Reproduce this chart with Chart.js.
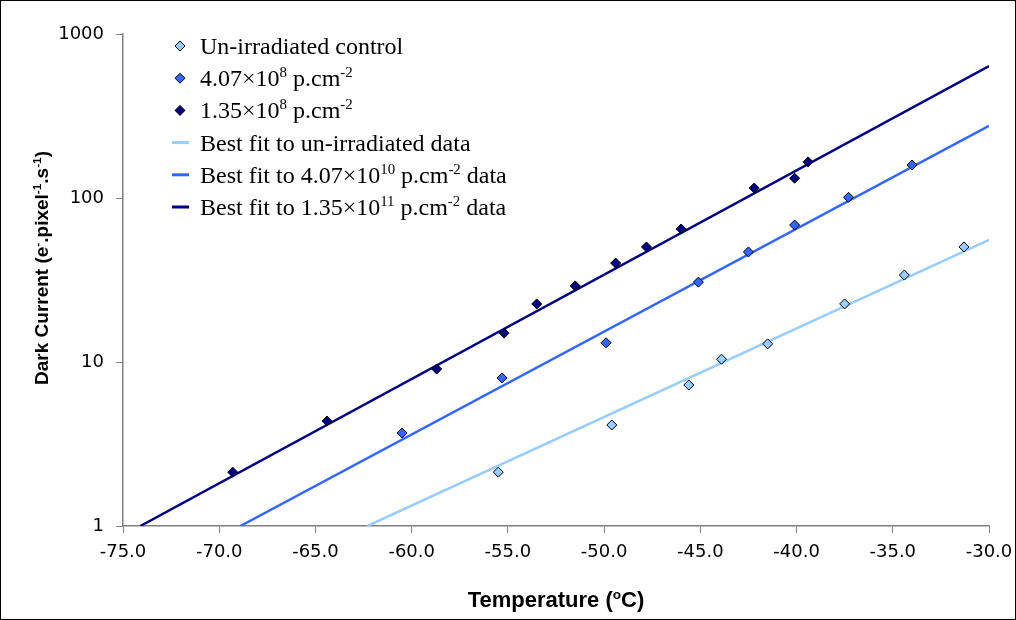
<!DOCTYPE html>
<html>
<head>
<meta charset="utf-8">
<script src="https://cdn.jsdelivr.net/npm/chart.js@4.4.0/dist/chart.umd.min.js"></script>
<style>
  html, body { margin: 0; padding: 0; background: #fff; }
  #wrap { width: 1016px; height: 620px; }
</style>
</head>
<body>
<div id="wrap"><canvas id="darkCurrentChart" width="1016" height="620"></canvas></div>
<script>
// Measured dark current (e-/pixel/s) against temperature (degC)
const controlTemp = [-55.5, -49.6, -45.6, -43.9, -41.5, -37.5, -34.4, -31.3];
const controlCurrent = [2.13, 4.13, 7.24, 10.4, 12.9, 22.6, 33.9, 50.3];

const midDoseTemp = [-60.5, -55.3, -49.9, -45.1, -42.5, -40.1, -37.3, -34.0];
const midDoseCurrent = [3.69, 7.99, 13.1, 30.7, 46.9, 68.4, 101, 159];

const highDoseTemp = [-69.3, -64.4, -58.7, -55.2, -53.5, -51.5, -49.4, -47.8, -46.0, -42.2, -40.1, -39.4];
const highDoseCurrent = [2.13, 4.37, 9.06, 15.0, 22.6, 29.1, 40.1, 50.3, 64.7, 115, 132, 166];

// Best fit lines (end points of each exponential fit)
const controlFitTemp = [-62.3, -30.0];
const controlFitCurrent = [1, 55.5];
const midDoseFitTemp = [-68.9, -30.0];
const midDoseFitCurrent = [1, 275];
const highDoseFitTemp = [-74.1, -30.0];
const highDoseFitCurrent = [1, 638];

const yTickValues = [1, 10, 100, 1000];

// ^{...} marks a superscript
const legendLabels = [
    'Un-irradiated control',
    '4.07×10^{8} p.cm^{-2}',
    '1.35×10^{8} p.cm^{-2}',
    'Best fit to un-irradiated data',
    'Best fit to 4.07×10^{10} p.cm^{-2} data',
    'Best fit to 1.35×10^{11} p.cm^{-2} data'
];
const xTitle = 'Temperature (^{o}C)';
const yTitle = 'Dark Current (e^{-}.pixel^{-1}.s^{-1})';

const colors = ['#99CCFF', '#3366FF', '#000080'];

const SANS = "'Liberation Sans', Arial, sans-serif";
const TICK_FONT = "'DejaVu Sans', sans-serif";
const SERIF = "'Liberation Serif', 'Times New Roman', serif";

function toPoints(xs, ys) {
    return xs.map((x, i) => ({ x: x, y: ys[i] }));
}

function drawRich(ctx, text, x, y, size, weight, family, measureOnly) {
    const parts = text.split(/\^\{([^}]*)\}/);
    let cx = x;
    parts.forEach((part, i) => {
        if (!part) return;
        const sup = i % 2 === 1;
        const fs = sup ? size * 0.62 : size;
        ctx.font = `${weight} ${fs}px ${family}`;
        if (!measureOnly) ctx.fillText(part, cx, sup ? y - size * 0.38 : y);
        cx += ctx.measureText(part).width;
    });
    return cx - x;
}

// legend, axis titles and the outer frame
const decorations = {
    id: 'decorations',
    afterDraw(chart) {
        const ctx = chart.ctx;
        const area = chart.chartArea;
        ctx.save();
        ctx.fillStyle = '#000';
        ctx.textBaseline = 'alphabetic';
        ctx.textAlign = 'left';

        // x title
        let w = drawRich(ctx, xTitle, 0, 0, 22, 'bold', SANS, true);
        drawRich(ctx, xTitle, (area.left + area.right) / 2 - w / 2, 607, 22, 'bold', SANS);

        // y title
        ctx.save();
        ctx.translate(48, 268);
        ctx.rotate(-Math.PI / 2);
        w = drawRich(ctx, yTitle, 0, 0, 19, 'bold', SANS, true);
        drawRich(ctx, yTitle, -w / 2, 0, 19, 'bold', SANS);
        ctx.restore();

        // legend
        legendLabels.forEach((label, i) => {
            const cy = 46 + i * 32.2;
            const color = colors[i % 3];
            if (i < 3) {
                const r = 5;
                ctx.beginPath();
                ctx.moveTo(180, cy - r);
                ctx.lineTo(180 + r, cy);
                ctx.lineTo(180, cy + r);
                ctx.lineTo(180 - r, cy);
                ctx.closePath();
                ctx.fillStyle = color;
                ctx.fill();
                ctx.lineWidth = 1;
                ctx.strokeStyle = '#000';
                ctx.stroke();
            } else {
                ctx.beginPath();
                ctx.moveTo(172, cy);
                ctx.lineTo(189, cy);
                ctx.lineWidth = 3;
                ctx.strokeStyle = color;
                ctx.stroke();
            }
            ctx.fillStyle = '#000';
            drawRich(ctx, label, 200, cy + 8, 24, 'normal', SERIF);
        });

        // frame
        ctx.strokeStyle = '#000';
        ctx.lineWidth = 1;
        ctx.strokeRect(0.5, 0.5, chart.width - 1, chart.height - 1);
        ctx.restore();
    }
};

function pointSet(label, xs, ys, color) {
    return {
        label: label,
        data: toPoints(xs, ys),
        showLine: false,
        pointStyle: 'rectRot',
        pointRadius: 5,
        pointBorderWidth: 1,
        pointBorderColor: '#000',
        pointBackgroundColor: color,
        order: 0
    };
}

function fitSet(label, xs, ys, color) {
    return {
        label: label,
        data: toPoints(xs, ys),
        showLine: true,
        borderColor: color,
        borderWidth: 2.5,
        pointRadius: 0,
        order: 1
    };
}

const ctx = document.getElementById('darkCurrentChart').getContext('2d');
const darkCurrentChart = new Chart(ctx, {
    type: 'scatter',
    data: {
        datasets: [
            pointSet(legendLabels[0], controlTemp, controlCurrent, colors[0]),
            pointSet(legendLabels[1], midDoseTemp, midDoseCurrent, colors[1]),
            pointSet(legendLabels[2], highDoseTemp, highDoseCurrent, colors[2]),
            fitSet(legendLabels[3], controlFitTemp, controlFitCurrent, colors[0]),
            fitSet(legendLabels[4], midDoseFitTemp, midDoseFitCurrent, colors[1]),
            fitSet(legendLabels[5], highDoseFitTemp, highDoseFitCurrent, colors[2])
        ]
    },
    options: {
        responsive: false,
        animation: false,
        devicePixelRatio: 1,
        layout: {
            padding: { left: 0, right: 27, top: 34, bottom: 0 }
        },
        plugins: {
            legend: { display: false },
            tooltip: { enabled: false }
        },
        scales: {
            x: {
                type: 'linear',
                min: -75,
                max: -30,
                afterFit: (scale) => {
                    scale.height = 94;
                    scale.paddingLeft = 0;
                    scale.paddingRight = 0;
                },
                ticks: {
                    stepSize: 5,
                    padding: 9,
                    color: '#000',
                    maxRotation: 0,
                    font: { family: TICK_FONT, size: 18 },
                    callback: (v) => v.toFixed(1)
                },
                grid: { drawOnChartArea: false, tickLength: 7, color: '#808080' },
                border: { color: '#808080', width: 1.5 }
            },
            y: {
                type: 'logarithmic',
                min: 1,
                max: 1000,
                afterFit: (scale) => {
                    scale.width = 123;
                    scale.paddingTop = 0;
                    scale.paddingBottom = 0;
                },
                afterBuildTicks: (scale) => {
                    scale.ticks = yTickValues.map((v) => ({ value: v }));
                },
                ticks: {
                    padding: 12,
                    color: '#000',
                    font: { family: TICK_FONT, size: 18 },
                    callback: (v) => String(v)
                },
                grid: { drawOnChartArea: false, tickLength: 7, color: '#808080' },
                border: { color: '#808080', width: 1.5 }
            }
        }
    },
    plugins: [decorations]
});
</script>
</body>
</html>
